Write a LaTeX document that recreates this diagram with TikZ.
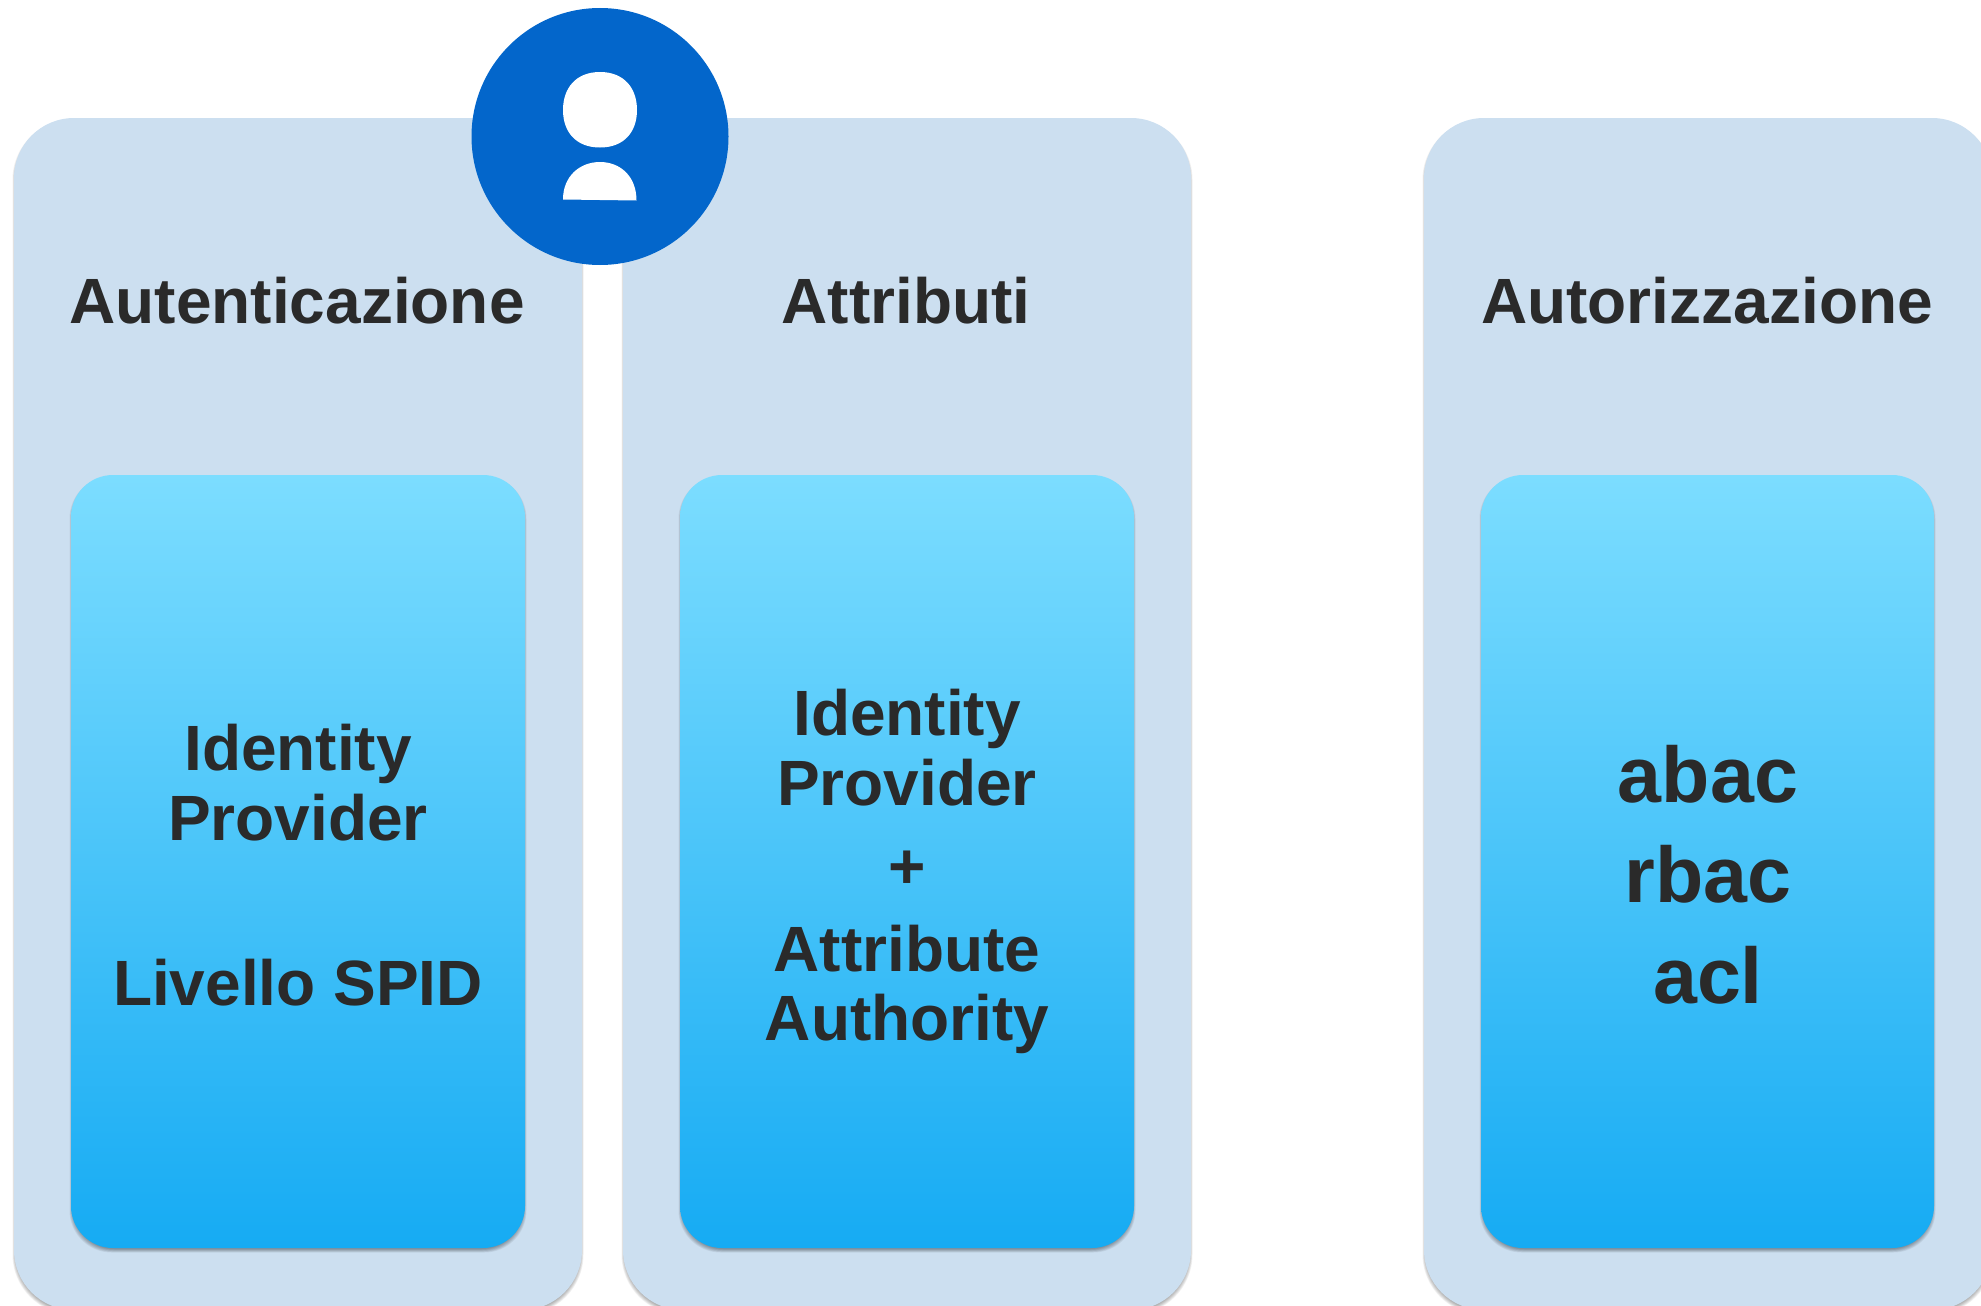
\documentclass[tikz,border=0pt]{standalone}
\usepackage{fontspec}
\setmainfont{Liberation Sans}
\definecolor{panelc}{HTML}{CCDFF0}
\definecolor{gradtop}{HTML}{7CDDFF}
\definecolor{gradbot}{HTML}{16ABF3}
\definecolor{inkc}{HTML}{2A2A2A}
\definecolor{circc}{HTML}{0366CB}
\newcommand{\softshadow}[6]{% x0,y0,x1,y1,radius,offset
  \foreach \k in {0,1,...,7}{
    \fill[black,opacity=0.05,rounded corners=#5pt]
      ({#1+2-0.5*\k},{#2+#6+2-0.5*\k}) rectangle ({#3-2+0.5*\k},{#4+#6-2+0.5*\k});
  }
}
\tikzset{
  panel/.style={fill=panelc,rounded corners=60pt},
  innerbox/.style={top color=gradtop,bottom color=gradbot,rounded corners=42pt},
  titletxt/.style={anchor=base,font=\fontsize{64}{64}\selectfont\bfseries,text=inkc,inner sep=0pt},
  bodytxt/.style={anchor=base,font=\fontsize{64}{64}\selectfont\bfseries,text=inkc,inner sep=0pt},
  bigtxt/.style={anchor=base,font=\fontsize{79}{79}\selectfont\bfseries,text=inkc,inner sep=0pt}
}
\begin{document}
\begin{tikzpicture}[x=1pt,y=-1pt]
\useasboundingbox (0,0) rectangle (1981,1306);
\begin{scope}
\clip (0,0) rectangle (1981,1306);
% panels
\softshadow{14}{118}{582}{1310}{60}{3}
\fill[panel] (14,118) rectangle (582,1310);
\softshadow{623}{118}{1191}{1310}{60}{3}
\fill[panel] (623,118) rectangle (1191,1310);
\softshadow{1424}{118}{1992}{1310}{60}{3}
\fill[panel] (1424,118) rectangle (1992,1310);
% inner boxes
\softshadow{71}{475}{525}{1248}{42}{3}
\shade[innerbox] (71,475) rectangle (525,1248);
\softshadow{680}{475}{1134}{1248}{42}{3}
\shade[innerbox] (680,475) rectangle (1134,1248);
\softshadow{1481}{475}{1934}{1248}{42}{3}
\shade[innerbox] (1481,475) rectangle (1934,1248);
\end{scope}
% user badge
\fill[circc] (600,136.5) circle (128.5);
\fill[white] (600,72) .. controls (624,72) and (637,88) .. (637,110)
  .. controls (637,132) and (624,147.5) .. (600,147.5)
  .. controls (576,147.5) and (563,132) .. (563,110)
  .. controls (563,88) and (576,72) .. (600,72) -- cycle;
\fill[white] (563,199.5) .. controls (563,176) and (580,162) .. (600,162) .. controls (620,162) and (636.5,176) .. (636.5,200.5) -- cycle;
% titles
\node[titletxt] (t1) at (297,323) {Autenticazione};
\node[titletxt] (t2) at (906,323) {Attributi};
\node[titletxt] (t3) at (1707,323) {Autorizzazione};
% column 1
\node[bodytxt] (a1) at (298,770) {Identity};
\node[bodytxt] (a2) at (298,840) {Provider};
\node[bodytxt] (a3) at (298,1005) {Livello SPID};
% column 2
\node[bodytxt] (b1) at (907,735) {Identity};
\node[bodytxt] (b2) at (907,805) {Provider};
\node[bodytxt] (b3) at (907,888) {+};
\node[bodytxt] (b4) at (907,971) {Attribute};
\node[bodytxt] (b5) at (907,1040) {Authority};
% column 3
\node[bigtxt] (c1) at (1708,802) {abac};
\node[bigtxt] (c2) at (1708,902) {rbac};
\node[bigtxt] (c3) at (1708,1003) {acl};
\end{tikzpicture}
\end{document}
